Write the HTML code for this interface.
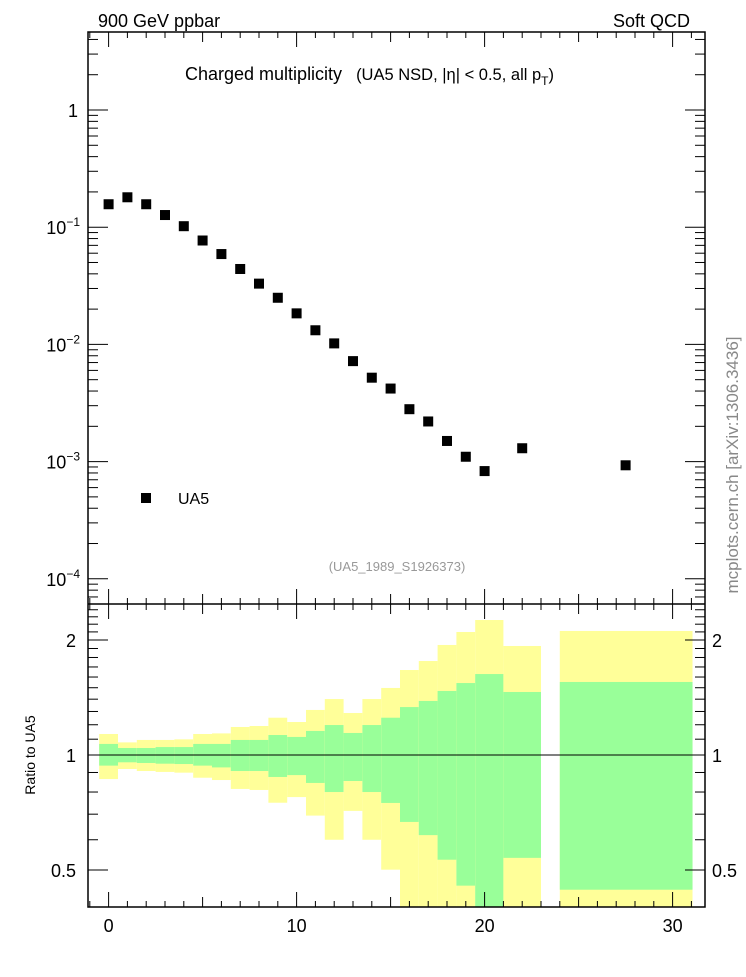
<!DOCTYPE html>
<html><head><meta charset="utf-8"><style>
body{margin:0;background:#fff}
svg text{font-family:"Liberation Sans",sans-serif}
</style></head><body>
<svg id="c" width="746" height="972" viewBox="0 0 746 972" xmlns="http://www.w3.org/2000/svg">
<rect width="746" height="972" fill="#fff"/>
<g id="bands"></g>
<g id="marks"></g>
<g id="axes"></g>
<text x="98" y="27" font-size="18">900 GeV ppbar</text>
<text x="690" y="27" font-size="18" text-anchor="end">Soft QCD</text>
<text x="185" y="80" font-size="18">Charged multiplicity<tspan font-size="16.5" dx="14">(UA5 NSD, |η| &lt; 0.5, all p</tspan><tspan font-size="12" dy="5">T</tspan><tspan font-size="16.5" dy="-5">)</tspan></text>
<rect x="141" y="493" width="10" height="10" fill="#000"/>
<text x="178" y="504" font-size="16">UA5</text>
<text x="397" y="571" font-size="13" fill="#999" text-anchor="middle">(UA5_1989_S1926373)</text>
<text transform="translate(738,465) rotate(-90)" font-size="17" fill="#888" text-anchor="middle">mcplots.cern.ch [arXiv:1306.3436]</text>
<text transform="translate(35,755) rotate(-90)" font-size="14" text-anchor="middle">Ratio to UA5</text>
</svg>
<script>
const xs=[0,1,2,3,4,5,6,7,8,9,10,11,12,13,14,15,16,17,18,19,20,22,27.5];
const ys=[0.157,0.18,0.157,0.127,0.102,0.077,0.059,0.044,0.033,0.025,0.0184,0.0132,0.0102,0.0072,0.0052,0.0042,0.0028,0.0022,0.0015,0.0011,0.00083,0.0013,0.00093];
const binLo=[-0.5,0.5,1.5,2.5,3.5,4.5,5.5,6.5,7.5,8.5,9.5,10.5,11.5,12.5,13.5,14.5,15.5,16.5,17.5,18.5,19.5,21,24];
const binHi=[0.5,1.5,2.5,3.5,4.5,5.5,6.5,7.5,8.5,9.5,10.5,11.5,12.5,13.5,14.5,15.5,16.5,17.5,18.5,19.5,21,23,31.06];
const yelHi=[1.135,1.079,1.095,1.095,1.099,1.135,1.139,1.184,1.191,1.252,1.220,1.312,1.401,1.288,1.401,1.498,1.669,1.762,1.941,2.099,2.256,1.929,2.112];
const grnHi=[1.069,1.043,1.043,1.049,1.049,1.069,1.069,1.095,1.095,1.128,1.115,1.156,1.198,1.142,1.198,1.252,1.335,1.385,1.471,1.543,1.629,1.462,1.553];
const grnLo=[0.938,0.957,0.953,0.949,0.947,0.938,0.928,0.908,0.908,0.876,0.886,0.845,0.800,0.855,0.800,0.749,0.668,0.617,0.532,0.455,0.3,0.538,0.444];
const yelLo=[0.865,0.919,0.908,0.903,0.899,0.872,0.860,0.815,0.810,0.750,0.776,0.694,0.600,0.714,0.600,0.501,0.3,0.3,0.3,0.3,0.3,0.3,0.3];
const xTicks=[0,10,20,30];
const yTopTicks=[0,-1,-2,-3,-4];
const yRatTicks=[2,1,0.5];

const NS="http://www.w3.org/2000/svg";
const L=88,R=705,T=32,M=604,B=907;
const X=v=>108.6+v*18.8;
const Yt=v=>110-117.2*Math.log10(v);
const Yr=v=>Math.min(B,Math.max(M,755-115*Math.log2(v)));
function el(tag,a,p){const e=document.createElementNS(NS,tag);for(const k in a)e.setAttribute(k,a[k]);p.appendChild(e);return e;}
const bands=document.getElementById('bands'),marks=document.getElementById('marks'),axes=document.getElementById('axes');
for(let i=0;i<binLo.length;i++){
  const x0=X(binLo[i]),x1=Math.min(R,X(binHi[i]));
  const y=el('rect',{x:x0,y:Yr(yelHi[i]),width:x1-x0,height:Yr(yelLo[i])-Yr(yelHi[i]),fill:'#ffff99'},bands);
  
  
  const g=el('rect',{x:x0,y:Yr(grnHi[i]),width:x1-x0,height:Yr(grnLo[i])-Yr(grnHi[i]),fill:'#99ff99'},bands);
  
  
}
for(let i=0;i<xs.length;i++){
  const r=el('rect',{x:X(xs[i])-5,y:Yt(ys[i])-5,width:10,height:10,fill:'#000'},marks);
  
  
}
el('line',{x1:L,x2:R,y1:755,y2:755,stroke:'#000','stroke-width':1},axes);
el('rect',{x:L,y:T,width:R-L,height:B-T,fill:'none',stroke:'#000','stroke-width':1.5},axes);
el('line',{x1:L,x2:R,y1:M,y2:M,stroke:'#000','stroke-width':1.5},axes);
for(let v=-1;v<=31;v++){
  const len=v%10===0?15:(v%5===0?10:6);const x=X(v);
  for(const [y0,d] of [[T,1],[M,-1],[M,1],[B,-1]]) el('line',{x1:x,x2:x,y1:y0,y2:y0+d*len,stroke:'#000'},axes);
}
xTicks.forEach(v=>{const t=el('text',{x:X(v),y:932,'font-size':18,'text-anchor':'middle'},axes);t.textContent=v;
  });
for(let d=-5;d<=0;d++){for(let m=1;m<=9;m++){const v=m*Math.pow(10,d);const y=Yt(v);if(y<T||y>M)continue;
  const len=m===1?20:10;el('line',{x1:L,x2:L+len,y1:y,y2:y,stroke:'#000'},axes);el('line',{x1:R,x2:R-len,y1:y,y2:y,stroke:'#000'},axes);}}
yTopTicks.forEach(p=>{const y=Yt(Math.pow(10,p));const t=el('text',{x:p===0?78:80,y:y+7,'font-size':18,'text-anchor':'end'},axes);
  if(p===0)t.textContent='1';else{t.textContent='10';const s=el('tspan',{dy:-8,'font-size':12},t);s.textContent=String(p).replace('-','−');}
  });
const rt=[];for(let v=0.4;v<1;v+=0.1)rt.push(v);for(let v=1;v<2;v+=0.1)rt.push(v);for(let v=2;v<2.5;v+=0.1)rt.push(v);
rt.forEach(v=>{const y=755-115*Math.log2(v);if(y<M+1||y>B-1)return;const major=[0.5,1,2].some(m=>Math.abs(m-v)<1e-6);const len=major?20:10;
  el('line',{x1:L,x2:L+len,y1:y,y2:y,stroke:'#000'},axes);el('line',{x1:R,x2:R-len,y1:y,y2:y,stroke:'#000'},axes);});
yRatTicks.forEach(v=>{const y=Yr(v);
  const a=el('text',{x:76,y:y+7,'font-size':18,'text-anchor':'end'},axes);a.textContent=v;
  
  const b=el('text',{x:712,y:y+7,'font-size':18},axes);b.textContent=v;
  });
</script>
</body></html>
